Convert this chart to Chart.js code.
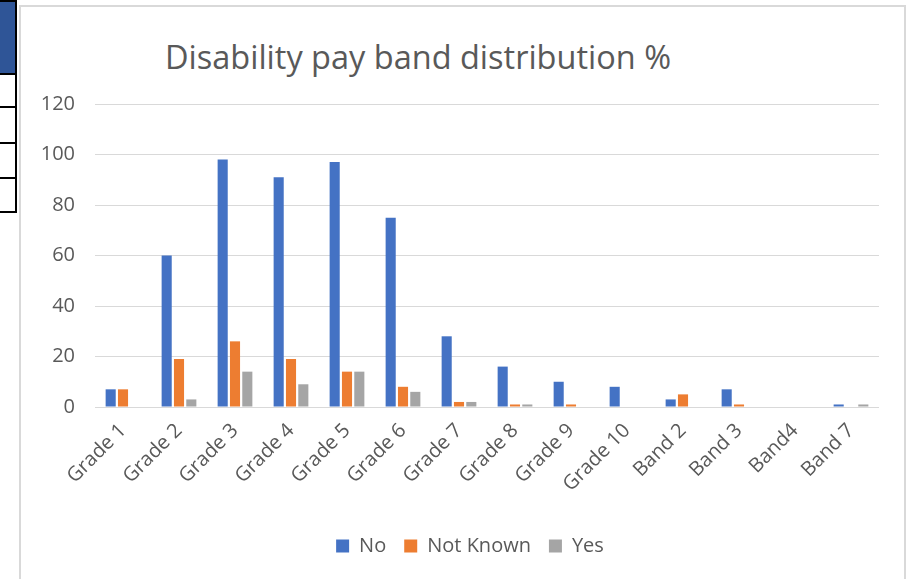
<!doctype html>
<html>
<head>
<meta charset="utf-8" />
<title>Disability pay band distribution %</title>
<script src="https://cdn.jsdelivr.net/npm/chart.js"></script>
<style>
  html, body { margin:0; padding:0; background:#fff; width:913px; height:579px; overflow:hidden; }
  .cell { position:absolute; left:0; width:15px; border-right:2px solid #000; border-bottom:2px solid #000; box-sizing:content-box; }
  #frame { position:absolute; left:19px; top:5px; width:887px; height:580px; border-top:2px solid #d9d9d9; border-left:2px solid #d9d9d9; border-right:2px solid #d9d9d9; box-sizing:border-box; }
  #title { position:absolute; left:0; top:34px; width:836px; text-align:center; font-family:"Open Sans", sans-serif; font-size:32.5px; color:#595959; white-space:nowrap; }
  #wrap { position:absolute; left:21px; top:7px; width:884px; height:572px; }
</style>
</head>
<body>
<!-- Tabellenrest links -->
<div class="cell" style="top:0;height:71px;background:#2f5597;border-top:2px solid #000;"></div>
<div class="cell" style="top:73px;height:33px;"></div>
<div class="cell" style="top:108px;height:34px;"></div>
<div class="cell" style="top:144px;height:33px;"></div>
<div class="cell" style="top:179px;height:32px;"></div>

<div id="frame"></div>
<div id="title">Disability pay band distribution %</div>
<div id="wrap"><canvas id="c"></canvas></div>

<script>
// Daten
const categories = ["Grade 1","Grade 2","Grade 3","Grade 4","Grade 5","Grade 6","Grade 7","Grade 8","Grade 9","Grade 10","Band 2","Band 3","Band4","Band 7"];
const noValues        = [7, 60, 98, 91, 97, 75, 28, 16, 10, 8, 3, 7, 0, 1];
const notKnownValues  = [7, 19, 26, 19, 14, 8, 2, 1, 1, 0, 5, 1, 0, 0];
const yesValues       = [0, 3, 14, 9, 14, 6, 2, 1, 0, 0, 0, 0, 0, 1];
const yTicks = [0, 20, 40, 60, 80, 100, 120];

const font = { family: "'Open Sans', sans-serif", size: 20 };
const grey = "#595959";

// Legende wie im Original etwas rechts der Mitte
const legendShift = {
  id: "legendShift",
  afterLayout(chart) {
    if (chart.legend) { chart.legend.left += 20; chart.legend.right += 20; }
  }
};

new Chart(document.getElementById("c").getContext("2d"), {
  type: "bar",
  data: {
    labels: categories,
    datasets: [
      { label: "No", data: noValues, backgroundColor: "#4472c4" },
      { label: "Not Known", data: notKnownValues, backgroundColor: "#ed7d31" },
      { label: "Yes", data: yesValues, backgroundColor: "#a5a5a5" }
    ]
  },
  options: {
    responsive: true,
    maintainAspectRatio: false,
    animation: false,
    devicePixelRatio: 1,
    datasets: { bar: { categoryPercentage: 0.66, barPercentage: 0.82 } },
    layout: { padding: { top: 97, left: 0, right: 26, bottom: 13 } },
    plugins: {
      legend: {
        position: "bottom",
        labels: { boxWidth: 13, boxHeight: 13, padding: 18, color: grey, font: font }
      },
      tooltip: { enabled: false }
    },
    scales: {
      x: {
        grid: { display: false },
        border: { display: false },
        ticks: { color: grey, font: font, maxRotation: 45, minRotation: 45, padding: 4, autoSkip: false },
        afterFit: s => { s.height = 111; }
      },
      y: {
        min: 0, max: 120,
        afterBuildTicks: s => { s.ticks = yTicks.map(v => ({ value: v })); },
        grid: { color: "#d9d9d9", lineWidth: 1, drawTicks: false },
        border: { display: false },
        ticks: { color: grey, font: font, padding: 20 },
        afterFit: s => { s.width = 74; }
      }
    }
  },
  plugins: [legendShift]
});
</script>
</body>
</html>
